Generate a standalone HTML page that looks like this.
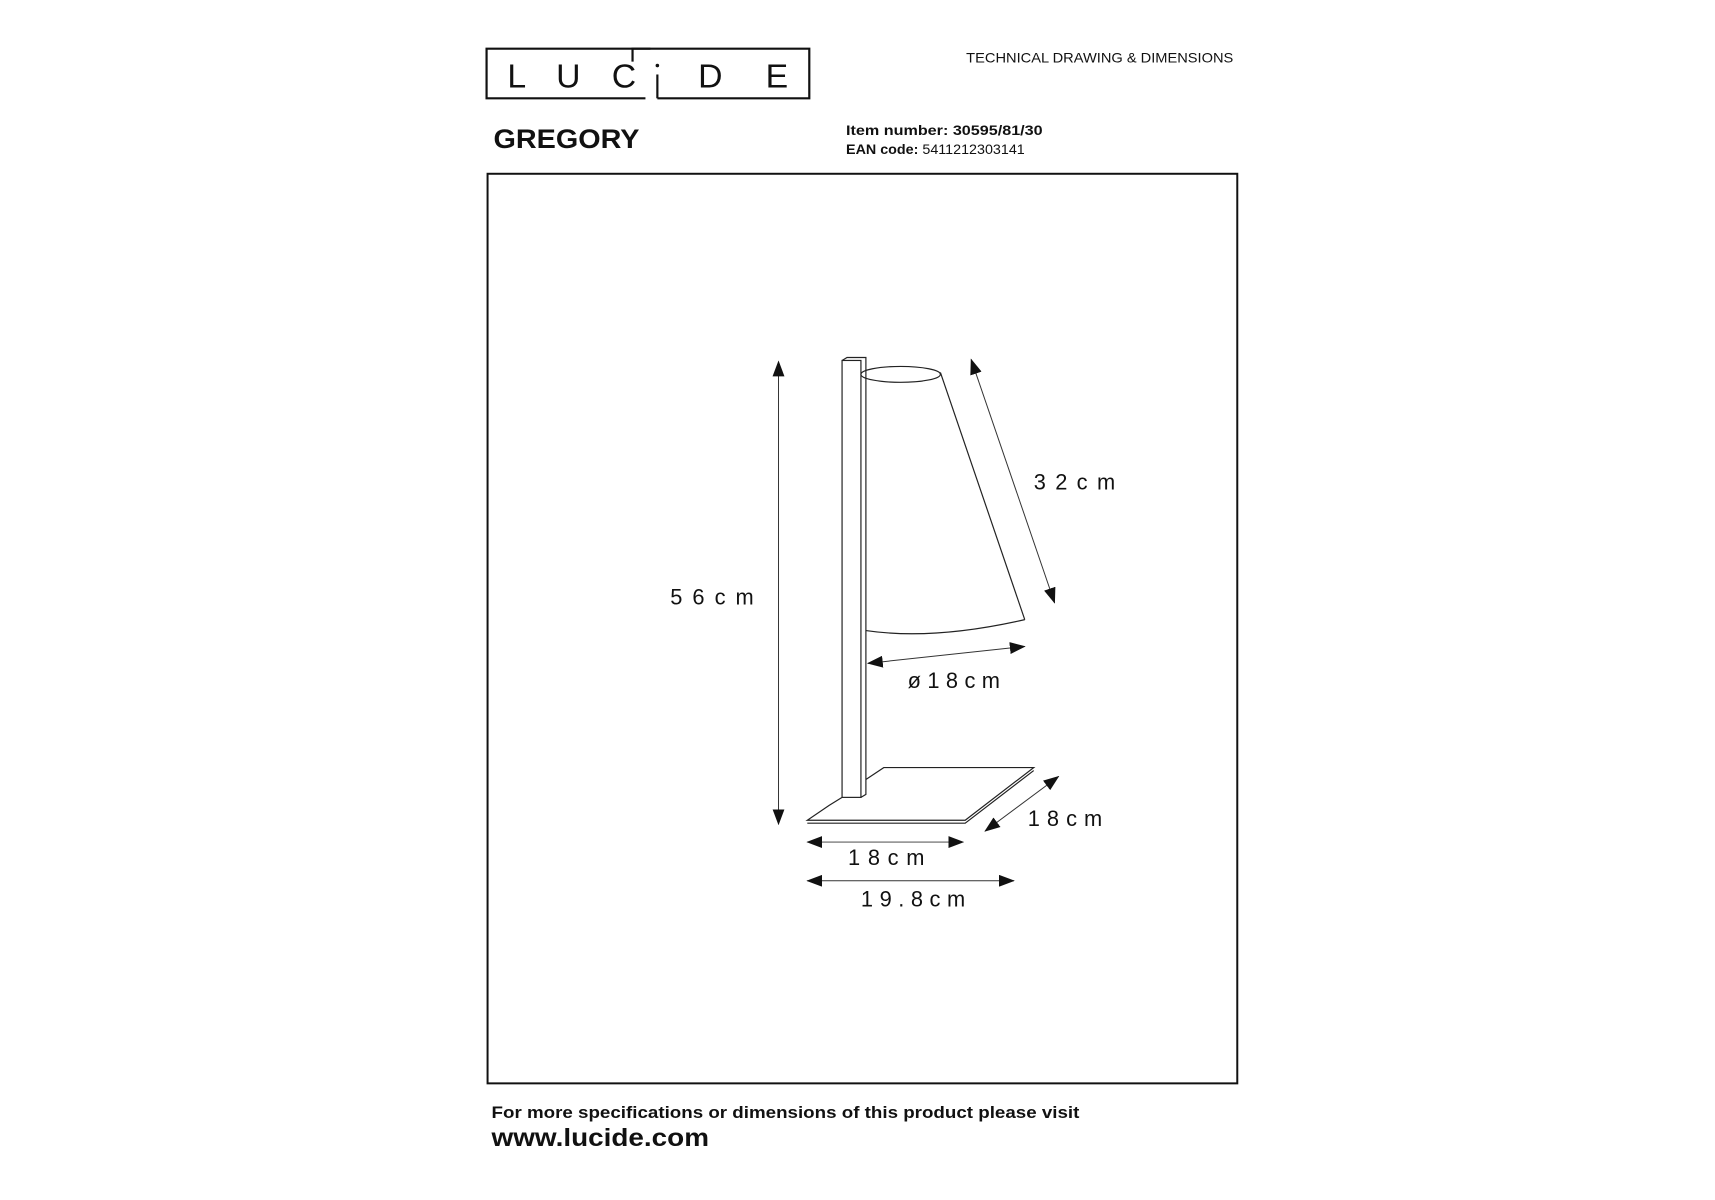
<!DOCTYPE html>
<html><head><meta charset="utf-8"><style>
html,body{margin:0;padding:0;background:#fff;}
svg{display:block;}
text{font-family:"Liberation Sans",sans-serif;fill:#111;}
</style></head><body>
<svg width="1715" height="1200" viewBox="0 0 1715 1200" xmlns="http://www.w3.org/2000/svg">
<defs>
<marker id="a" viewBox="0 0 16 12" refX="15" refY="6" markerWidth="16" markerHeight="12" markerUnits="userSpaceOnUse" orient="auto-start-reverse">
<path d="M0,0 L16,6 L0,12 Z" fill="#111"/>
</marker>
</defs>
<g transform="scale(0.993)">
<!-- logo -->
<g fill="none" stroke="#111" stroke-width="2.2">
<path d="M655,49 L490,49 L490,99 L650,99"/>
<path d="M662,99 L815,99 L815,49 L637,49 L637,62"/>
<path d="M662,75 L662,99"/>
</g>
<circle cx="662" cy="66" r="1.8" fill="#111"/>
<g font-size="34" style="font-weight:300">
<text x="511" y="88">L</text>
<text x="560" y="88">U</text>
<text x="616" y="88">C</text>
<text x="703" y="88">D</text>
<text x="771" y="88">E</text>
</g>
<text x="973" y="63" font-size="14" textLength="269" lengthAdjust="spacingAndGlyphs">TECHNICAL DRAWING &amp; DIMENSIONS</text>
<text x="497" y="149" font-size="27" font-weight="bold" textLength="147" lengthAdjust="spacingAndGlyphs">GREGORY</text>
<text x="852" y="136" font-size="13.5" font-weight="bold" textLength="198" lengthAdjust="spacingAndGlyphs">Item number: 30595/81/30</text>
<text x="852" y="155" font-size="13.5" textLength="180" lengthAdjust="spacingAndGlyphs"><tspan font-weight="bold">EAN code: </tspan>5411212303141</text>
<rect x="491" y="175" width="755" height="916" fill="none" stroke="#111" stroke-width="2"/>
<text x="495" y="1126" font-size="17" font-weight="bold" textLength="592" lengthAdjust="spacingAndGlyphs">For more specifications or dimensions of this product please visit</text>
<text x="495" y="1154" font-size="25" font-weight="bold" textLength="219" lengthAdjust="spacingAndGlyphs">www.lucide.com</text>

<!-- lamp -->
<g fill="none" stroke="#222" stroke-width="1.2">
<rect x="848" y="363" width="19" height="440"/>
<path d="M848,363 L853,360 L872,360 L872,800 L867,803"/>
<ellipse cx="907" cy="377" rx="40" ry="8"/>
<path d="M947,375 L1032,624"/>
<path d="M872,635 Q940,645 1032,624"/>
<path d="M872,785 L890,773 L1041,773 L972,826 L813,826 L835,811 L848,803"/>
<path d="M813,829 L972,829 L1041,776"/>
</g>
<g stroke="#333" stroke-width="1" fill="none" marker-start="url(#a)" marker-end="url(#a)">
<line x1="784" y1="364" x2="784" y2="830"/>
<line x1="978" y1="362" x2="1062" y2="607"/>
<line x1="874" y1="668" x2="1032" y2="651"/>
<line x1="992" y1="837" x2="1066" y2="782"/>
<line x1="813" y1="848" x2="970" y2="848"/>
<line x1="813" y1="887" x2="1021" y2="887"/>
</g>
<g font-size="22">
<text x="675" y="609" textLength="84" lengthAdjust="spacing">56cm</text>
<text x="1041" y="493" textLength="82" lengthAdjust="spacing">32cm</text>
<text x="914" y="693" textLength="93" lengthAdjust="spacing">ø18cm</text>
<text x="1035" y="832" textLength="75" lengthAdjust="spacing">18cm</text>
<text x="854" y="871" textLength="77" lengthAdjust="spacing">18cm</text>
<text x="867" y="913" textLength="105" lengthAdjust="spacing">19.8cm</text>
</g>
</g>
</svg>
</body></html>
